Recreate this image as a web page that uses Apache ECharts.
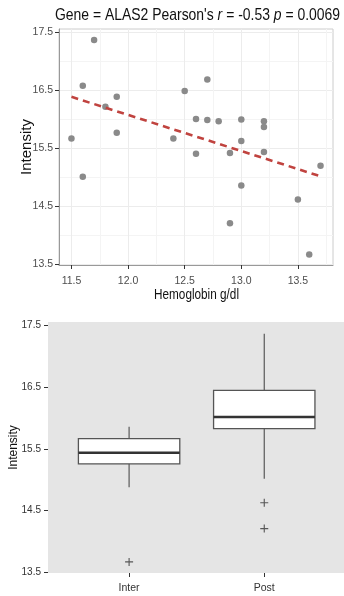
<!DOCTYPE html>
<html>
<head>
<meta charset="utf-8">
<script src="https://cdn.jsdelivr.net/npm/echarts@6/dist/echarts.min.js"></script>
<style>
  html, body { margin: 0; padding: 0; background: #fff; }
  #chart { width: 344px; height: 596px; }
</style>
</head>
<body>
<div id="chart"></div>
<script>
// Hemoglobin vs ALAS2 intensity, one point per sample
const hemoglobin = [11.5, 11.6, 11.6, 11.7, 11.8, 11.9, 11.9, 12.4, 12.5, 12.6, 12.6, 12.7, 12.7,
                    12.8, 12.9, 12.9, 13.0, 13.0, 13.0, 13.2, 13.2, 13.2, 13.5, 13.6, 13.7];
const intensity  = [15.67, 16.58, 15.01, 17.37, 16.22, 16.39, 15.77, 15.67, 16.49, 16.01, 15.41, 16.69, 15.99,
                    15.97, 15.42, 14.21, 16.00, 15.63, 14.86, 15.97, 15.87, 15.44, 14.62, 13.67, 15.20];

// Linear fit end points
const fitX = [11.5, 13.7];
const fitY = [16.39, 15.02];

// Box plot summary per group: whisker low, Q1, median, Q3, whisker high
const groups    = ['Inter', 'Post'];
const boxLow    = [14.88, 15.02];
const boxQ1     = [15.26, 15.83];
const boxMedian = [15.44, 16.02];
const boxQ3     = [15.67, 16.45];
const boxHigh   = [15.86, 17.37];
const outlierGroup = ['Inter', 'Post', 'Post'];
const outlierValue = [13.67, 14.63, 14.21];

// Axis ticks
const hbTicks = [11.5, 12.0, 12.5, 13.0, 13.5];
const hbMinor = [11.75, 12.25, 12.75, 13.25, 13.75];
const intTicks = [13.5, 14.5, 15.5, 16.5, 17.5];
const intMinor = [14.0, 15.0, 16.0, 17.0];

const FONT = "'Liberation Sans', Arial, Helvetica, sans-serif";
const Y_MIN = 13.49, Y_MAX = 17.56;

const chart = echarts.init(document.getElementById('chart'), null, { renderer: 'canvas' });

const scatterData = hemoglobin.map((h, i) => [h, intensity[i]]);
const fitData = fitX.map((x, i) => [x, fitY[i]]);
const boxData = groups.map((g, i) => [i + 1, boxLow[i], boxQ1[i], boxMedian[i], boxQ3[i], boxHigh[i]]);
const outlierData = outlierGroup.map((g, i) => [groups.indexOf(g) + 1, outlierValue[i]]);

const fmt1 = v => v.toFixed(1);

const option = {
  animation: false,
  backgroundColor: '#fff',
  // Condensed heading and x-axis title
  graphic: [
    {
      type: 'text', x: 197.5, y: 15, scaleX: 0.82, z: 10,
      style: {
        text: "Gene = ALAS2 Pearson's {i|r} = -0.53 {i|p} = 0.0069",
        fontFamily: FONT, fontSize: 17, fill: '#111',
        align: 'center', verticalAlign: 'middle',
        rich: { i: { fontFamily: FONT, fontSize: 17, fontStyle: 'italic', fill: '#111' } }
      }
    },
    {
      type: 'text', x: 196.5, y: 295, scaleX: 0.84, z: 10,
      style: {
        text: 'Hemoglobin g/dl', fontFamily: FONT, fontSize: 14, fill: '#111',
        align: 'center', verticalAlign: 'middle'
      }
    }
  ],
  grid: [
    { left: 59, right: 11, top: 29, bottom: 331, show: true, borderColor: '#cccccc', borderWidth: 1, backgroundColor: '#fff' },
    { left: 47, right: 0, top: 322, bottom: 23, show: true, borderWidth: 0, backgroundColor: '#e5e5e5' }
  ],
  xAxis: [
    {
      gridIndex: 0, type: 'value', min: 11.39, max: 13.81,
      axisLine: { show: true, onZero: false, lineStyle: { color: '#999', width: 1 } },
      axisTick: { show: true, length: 4, customValues: hbTicks, lineStyle: { color: '#333' } },
      axisLabel: { customValues: hbTicks, formatter: fmt1, margin: 11, fontFamily: FONT, fontSize: 10.5, color: '#4d4d4d' },
      splitLine: { show: true, lineStyle: { color: '#ececec', width: 1 } }
    },
    {
      gridIndex: 0, type: 'value', min: 11.39, max: 13.81, position: 'bottom',
      axisLine: { show: false }, axisLabel: { show: false },
      axisTick: { show: false, customValues: hbMinor },
      splitLine: { show: true, lineStyle: { color: '#f4f4f4', width: 1 } }
    },
    {
      gridIndex: 1, type: 'value', min: 0.4, max: 2.59,
      axisLine: { show: false },
      axisTick: { show: true, length: 4, customValues: [1, 2], lineStyle: { color: '#333' } },
      axisLabel: { customValues: [1, 2], formatter: v => groups[Math.round(v) - 1], margin: 10, fontFamily: FONT, fontSize: 10.5, color: '#333' },
      splitLine: { show: false }
    }
  ],
  yAxis: [
    {
      gridIndex: 0, type: 'value', min: Y_MIN, max: Y_MAX,
      name: 'Intensity', nameLocation: 'middle', nameGap: 25, nameMoveOverlap: false,
      nameTextStyle: { fontFamily: FONT, fontSize: 15, color: '#111' },
      axisLine: { show: true, onZero: false, lineStyle: { color: '#999', width: 1 } },
      axisTick: { show: true, length: 4, customValues: intTicks, lineStyle: { color: '#333' } },
      axisLabel: { customValues: intTicks, formatter: fmt1, margin: 6, fontFamily: FONT, fontSize: 10.5, color: '#4d4d4d' },
      splitLine: { show: true, lineStyle: { color: '#ececec', width: 1 } }
    },
    {
      gridIndex: 0, type: 'value', min: Y_MIN, max: Y_MAX, position: 'left',
      axisLine: { show: false }, axisLabel: { show: false },
      axisTick: { show: false, customValues: intMinor },
      splitLine: { show: true, lineStyle: { color: '#f4f4f4', width: 1 } }
    },
    {
      gridIndex: 1, type: 'value', min: Y_MIN, max: Y_MAX,
      name: 'Intensity', nameLocation: 'middle', nameGap: 28, nameMoveOverlap: false,
      nameTextStyle: { fontFamily: FONT, fontSize: 12, color: '#111' },
      axisLine: { show: false },
      axisTick: { show: true, length: 4, customValues: intTicks, lineStyle: { color: '#333' } },
      axisLabel: { customValues: intTicks, formatter: fmt1, margin: 7, fontFamily: FONT, fontSize: 10, color: '#333' },
      splitLine: { show: false }
    }
  ],
  series: [
    {
      type: 'scatter', xAxisIndex: 0, yAxisIndex: 0,
      data: scatterData, symbol: 'circle', symbolSize: 6.5,
      itemStyle: { color: '#8a8a8a', opacity: 1 }, z: 3
    },
    {
      type: 'line', xAxisIndex: 0, yAxisIndex: 0,
      data: fitData, symbol: 'none',
      lineStyle: { color: '#c0433f', width: 2.6, type: [7, 5] }, z: 4
    },
    {
      type: 'custom', xAxisIndex: 2, yAxisIndex: 2,
      data: boxData,
      renderItem: function (params, api) {
        const pos = api.value(0);
        const mid = api.coord([pos, api.value(3)]);
        const cx = mid[0];
        const half = api.size([0.75, 0])[0] / 2;
        const yLow = api.coord([pos, api.value(1)])[1];
        const yQ1 = api.coord([pos, api.value(2)])[1];
        const yQ3 = api.coord([pos, api.value(4)])[1];
        const yHigh = api.coord([pos, api.value(5)])[1];
        return {
          type: 'group',
          children: [
            { type: 'line', shape: { x1: cx, y1: yQ3, x2: cx, y2: yHigh }, style: { stroke: '#5a5a5a', lineWidth: 1.2 } },
            { type: 'line', shape: { x1: cx, y1: yQ1, x2: cx, y2: yLow }, style: { stroke: '#5a5a5a', lineWidth: 1.2 } },
            { type: 'rect', shape: { x: cx - half, y: yQ3, width: half * 2, height: yQ1 - yQ3 }, style: { fill: '#fff', stroke: '#555', lineWidth: 1.3 } },
            { type: 'line', shape: { x1: cx - half, y1: mid[1], x2: cx + half, y2: mid[1] }, style: { stroke: '#333', lineWidth: 2.6 } }
          ]
        };
      }
    },
    {
      type: 'scatter', xAxisIndex: 2, yAxisIndex: 2,
      data: outlierData,
      symbol: 'path://M4.3,0H5.7V4.3H10V5.7H5.7V10H4.3V5.7H0V4.3H4.3Z',
      symbolSize: 8,
      itemStyle: { color: '#333' }
    }
  ]
};

chart.setOption(option);
</script>
</body>
</html>
